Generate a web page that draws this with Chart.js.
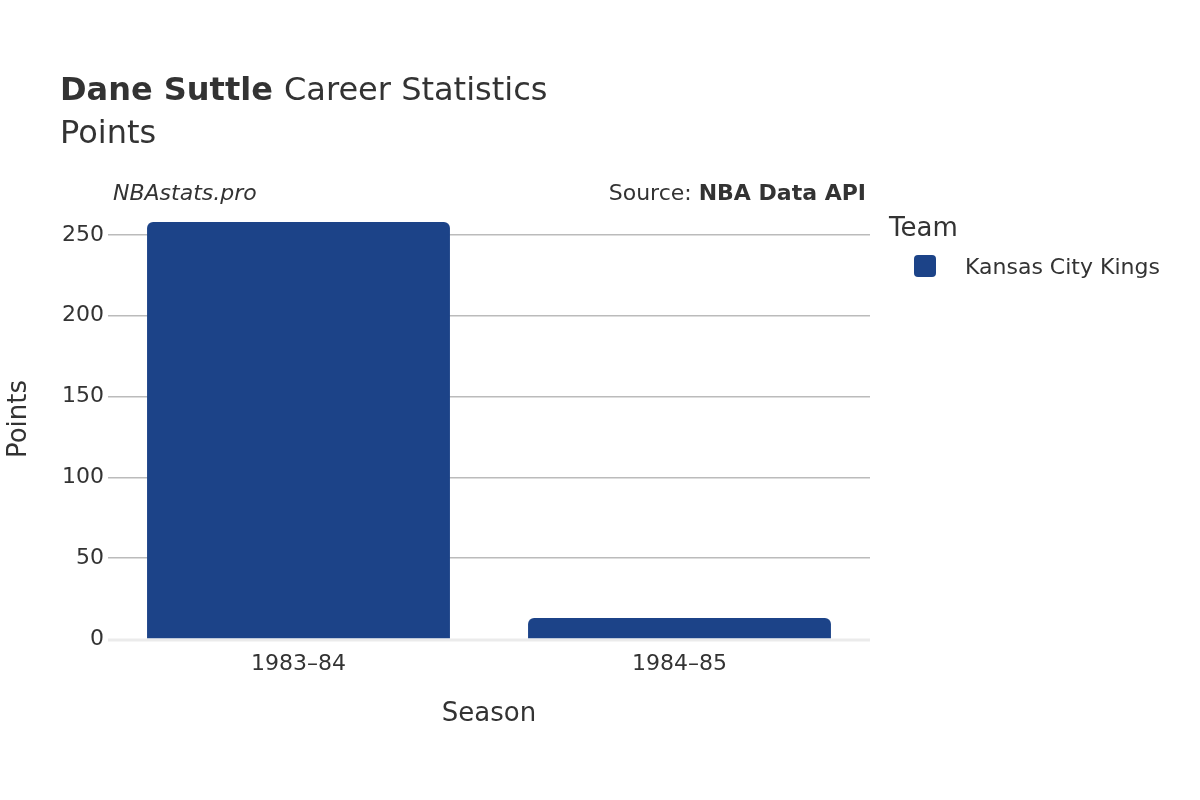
<!DOCTYPE html>
<html>
<head>
<meta charset="utf-8">
<script src="https://cdn.jsdelivr.net/npm/chart.js@4"></script>
<style>
  body { margin: 0; background: #fff; }
  #wrap { width: 1200px; height: 800px; }
</style>
</head>
<body>
<div id="wrap"><canvas id="chart" width="1200" height="800"></canvas></div>
<script>
const seasons = ['1983–84', '1984–85'];
const points = [258, 13];
const team = 'Kansas City Kings';
const yTicks = [0, 50, 100, 150, 200, 250];

const FONT = '"DejaVu Sans", sans-serif';
const TXT = '#333333';
const BAR = '#1c4388';

// titles, source and legend drawn straight onto the canvas
const decor = {
    id: 'decor',
    afterDraw(chart) {
        const c = chart.ctx;
        c.save();
        c.fillStyle = TXT;
        c.textBaseline = 'alphabetic';
        c.textAlign = 'left';
        c.font = 'bold 32px ' + FONT;
        c.fillText('Dane Suttle', 60, 100);
        const w = c.measureText('Dane Suttle ').width;
        c.font = '32px ' + FONT;
        c.fillText('Career Statistics', 60 + w, 100);
        c.fillText('Points', 60, 143);

        c.font = 'italic 22px ' + FONT;
        c.fillText('NBAstats.pro', 113, 200);

        c.textAlign = 'right';
        c.font = 'bold 22px ' + FONT;
        c.fillText('NBA Data API', 866, 200);
        const bw = c.measureText('NBA Data API').width;
        c.font = '22px ' + FONT;
        c.fillText('Source: ', 866 - bw, 200);

        c.textAlign = 'center';
        c.font = '26px ' + FONT;
        c.fillText('Season', 489, 721);
        c.save();
        c.translate(26, 419);
        c.rotate(-Math.PI / 2);
        c.fillText('Points', 0, 0);
        c.restore();

        c.textAlign = 'left';
        c.fillText('Team', 889, 236);
        c.fillStyle = BAR;
        c.beginPath();
        c.roundRect(914, 255, 22, 22, 4);
        c.fill();
        c.fillStyle = TXT;
        c.font = '22px ' + FONT;
        c.fillText(team, 965, 274);
        c.restore();
    }
};

// light zero line under the bars
const zeroLine = {
    id: 'zeroLine',
    beforeDatasetsDraw(chart) {
        const c = chart.ctx;
        const y = chart.scales.y.getPixelForValue(0);
        c.save();
        c.strokeStyle = '#ebebeb';
        c.lineWidth = 3;
        c.beginPath();
        c.moveTo(chart.chartArea.left, y + 1);
        c.lineTo(chart.chartArea.right, y + 1);
        c.stroke();
        c.restore();
    }
};

new Chart(document.getElementById('chart'), {
    type: 'bar',
    data: {
        labels: seasons,
        datasets: [{
            label: team,
            data: points,
            backgroundColor: BAR,
            borderRadius: { topLeft: 6, topRight: 6 },
            borderSkipped: 'bottom',
            categoryPercentage: 1,
            barPercentage: 0.795
        }]
    },
    options: {
        responsive: false,
        animation: false,
        layout: { padding: { left: 0, right: 330, top: 201, bottom: 0 } },
        plugins: { legend: { display: false }, tooltip: { enabled: false } },
        scales: {
            x: {
                grid: { display: false },
                border: { display: false },
                ticks: { color: TXT, font: { family: FONT, size: 22 }, padding: 4 },
                afterFit(s) { s.height = 161; }
            },
            y: {
                min: 0,
                max: 271,
                afterBuildTicks(s) { s.ticks = yTicks.map(v => ({ value: v })); },
                grid: {
                    color: ctx => ctx.tick && ctx.tick.value === 0 ? 'rgba(0,0,0,0)' : '#bbbbbb',
                    lineWidth: 1.5,
                    drawTicks: false
                },
                border: { display: false },
                ticks: { color: TXT, font: { family: FONT, size: 22 }, padding: 4 },
                afterFit(s) { s.width = 108; }
            }
        }
    },
    plugins: [zeroLine, decor]
});
</script>
</body>
</html>
